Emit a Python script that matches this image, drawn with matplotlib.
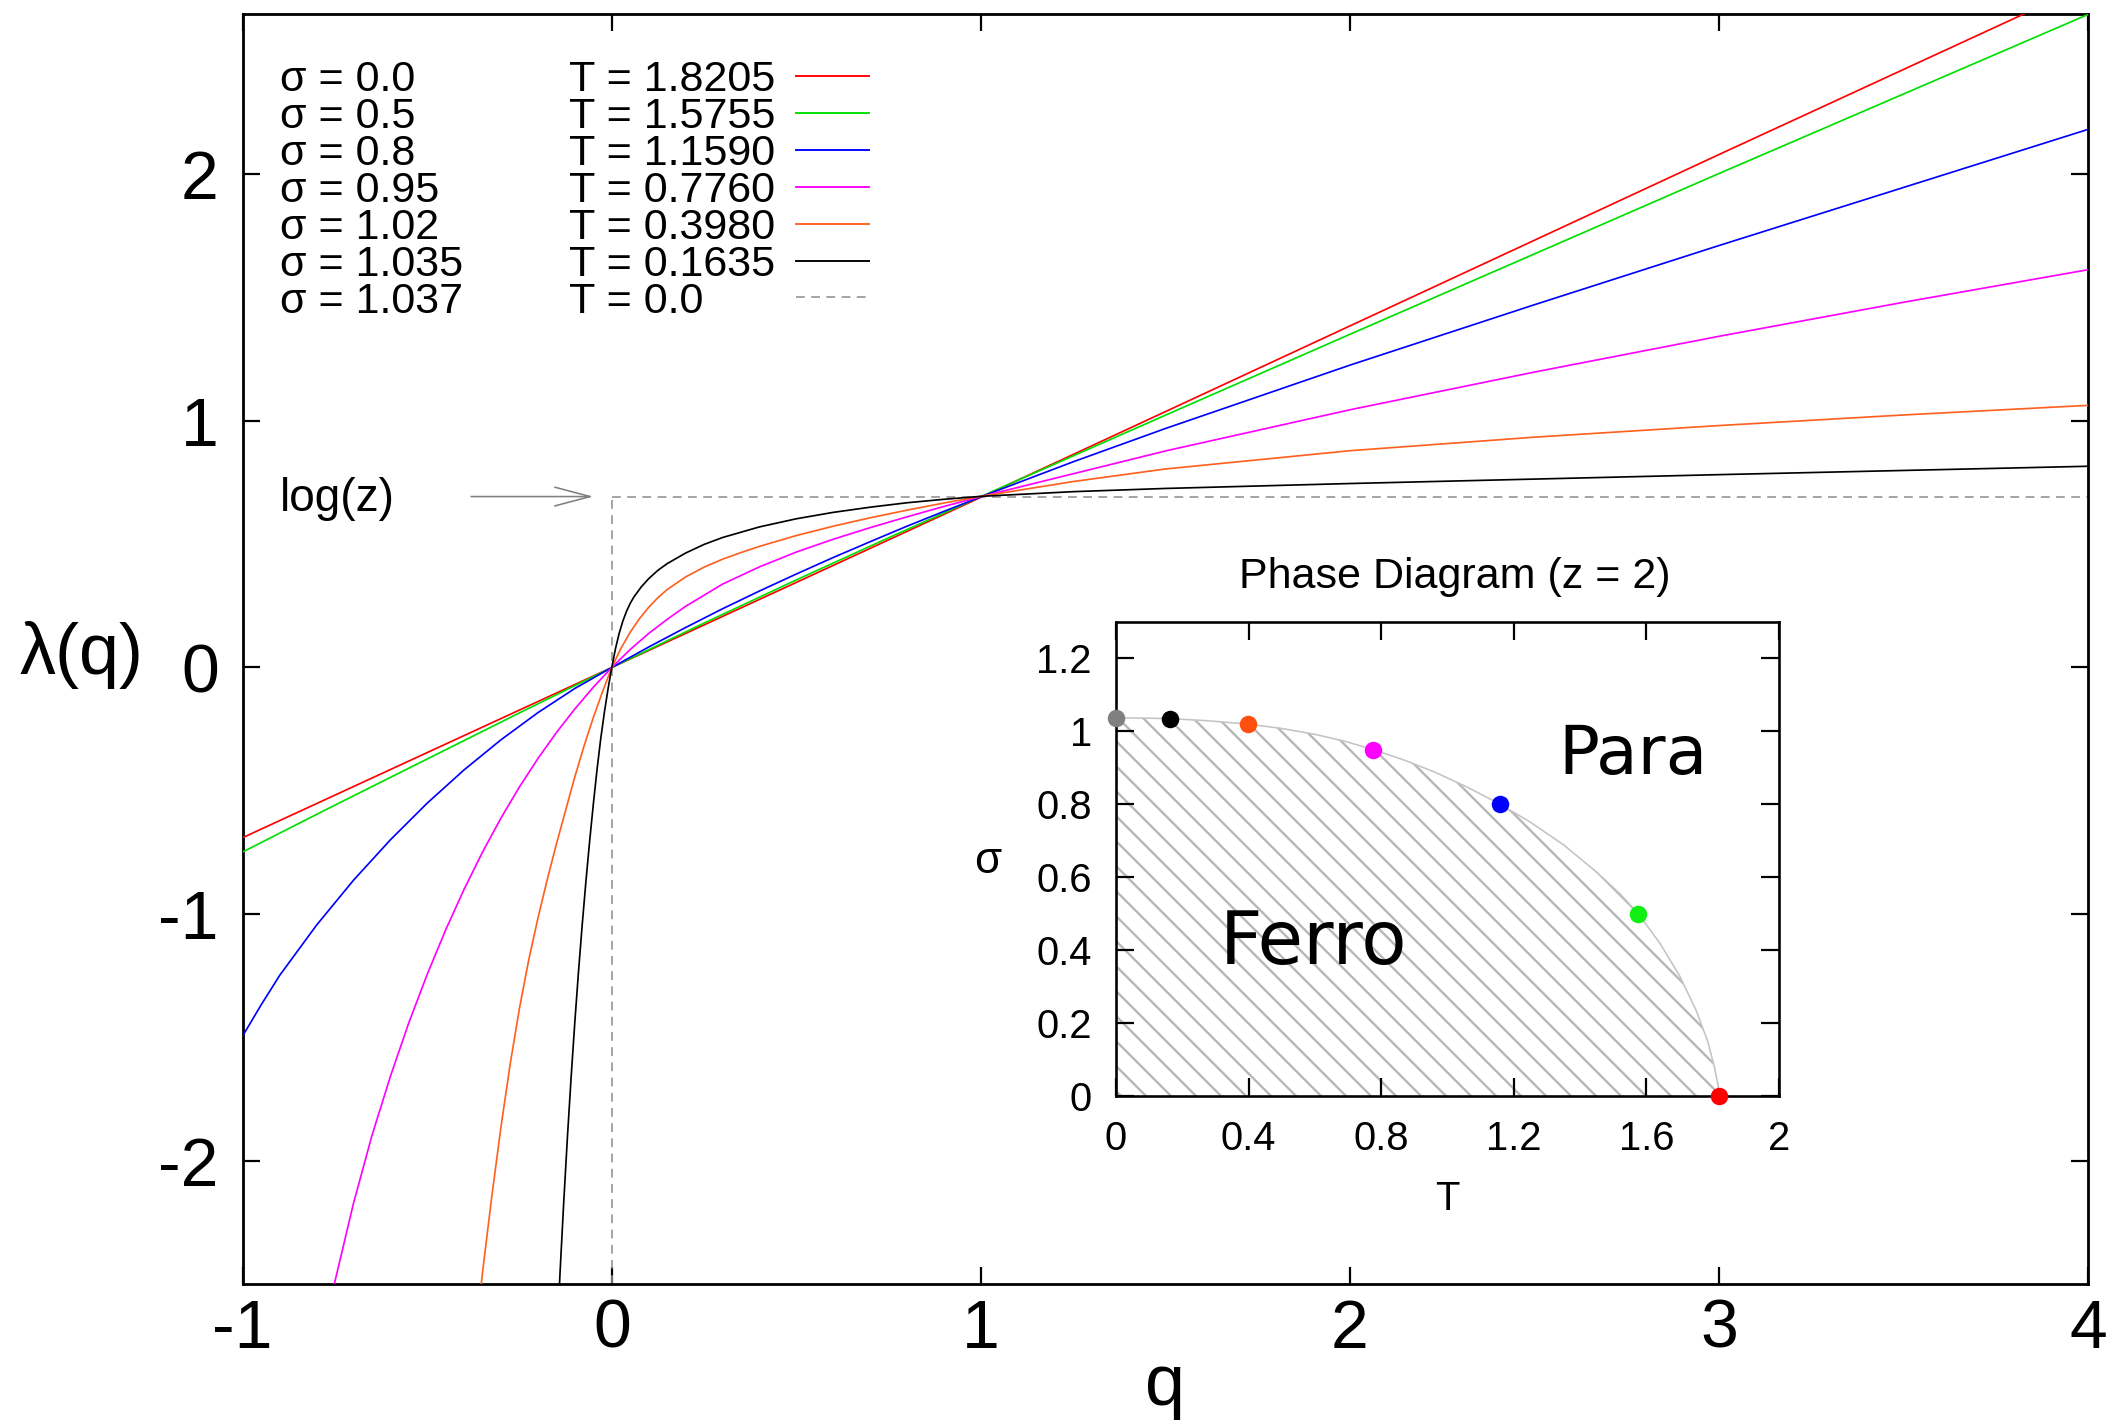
import numpy as np
import matplotlib
matplotlib.use("Agg")
import matplotlib.pyplot as plt
from matplotlib.ticker import FormatStrFormatter

DPI = 150
W, H = 2123, 1425


def pt(px):
    """Convert a size given in output pixels to points."""
    return px * 72.0 / DPI


plt.rcParams['font.family'] = ['Liberation Sans', 'DejaVu Sans']
plt.rcParams['axes.unicode_minus'] = False
plt.rcParams['hatch.linewidth'] = pt(2.4)

# ---------------------------------------------------------------- data
z = 2
log_z = np.log(z)

sigma_labels = ["0.0", "0.5", "0.8", "0.95", "1.02", "1.035", "1.037"]
T_labels = ["1.8205", "1.5755", "1.1590", "0.7760", "0.3980", "0.1635", "0.0"]
sigma_vals = [0.0, 0.5, 0.8, 0.95, 1.02, 1.035, 1.037]
T_vals = [1.8205, 1.5755, 1.1590, 0.7760, 0.3980, 0.1635, 0.0]
curve_colors = ['#ff0000', '#00e000', '#0000ff', '#ff00ff', '#ff6020', '#000000']
dot_colors = ['#ff0000', '#11ee11', '#0000ff', '#ff00ff', '#ff5010', '#000000', '#808080']

# lambda(q) for each sigma
q_s0 = [-1.0, 0.0, 1.0, 2.0, 3.0, 4.0]
lam_s0 = [-0.69, 0.0, 0.69, 1.385, 2.08, 2.77]

q_s05 = [-1.0, -0.75, -0.5, -0.25, 0.0, 0.25, 0.5, 0.75, 1.0, 1.5, 2.0, 3.0, 4.0]
lam_s05 = [-0.748, -0.558, -0.371, -0.184, 0.0, 0.18, 0.355, 0.526, 0.693,
           1.023, 1.351, 2.003, 2.648]

q_s08 = [-1.0, -0.95, -0.9, -0.8, -0.7, -0.6, -0.5, -0.4, -0.3, -0.2, -0.1, 0.0,
         0.1, 0.2, 0.3, 0.4, 0.5, 0.6, 0.7, 0.8, 0.9, 1.0, 1.25, 1.5, 2.0, 2.5,
         3.0, 4.0]
lam_s08 = [-1.494, -1.368, -1.249, -1.045, -0.863, -0.699, -0.550, -0.415, -0.293,
           -0.183, -0.085, 0.0, 0.083, 0.162, 0.238, 0.310, 0.379, 0.446, 0.510,
           0.573, 0.633, 0.692, 0.834, 0.969, 1.226, 1.471, 1.711, 2.182]

q_s095 = [-0.76, -0.75, -0.7, -0.65, -0.6, -0.55, -0.5, -0.45, -0.4, -0.35, -0.3,
          -0.25, -0.2, -0.15, -0.1, -0.05, 0.0, 0.05, 0.1, 0.15, 0.2, 0.3, 0.4,
          0.5, 0.6, 0.7, 0.8, 0.9, 1.0, 1.5, 2.0, 2.5, 3.0, 3.5, 4.0]
lam_s095 = [-2.553, -2.489, -2.174, -1.899, -1.659, -1.441, -1.244, -1.064, -0.899,
            -0.748, -0.610, -0.484, -0.369, -0.264, -0.168, -0.080, 0.0, 0.073,
            0.138, 0.195, 0.248, 0.338, 0.408, 0.468, 0.520, 0.567, 0.611, 0.653,
            0.693, 0.878, 1.045, 1.198, 1.343, 1.481, 1.613]

q_s102 = [-0.375, -0.35, -0.325, -0.3, -0.275, -0.25, -0.225, -0.2, -0.175, -0.15,
          -0.125, -0.1, -0.075, -0.05, -0.025, 0.0, 0.025, 0.05, 0.075, 0.1, 0.125,
          0.15, 0.2, 0.25, 0.3, 0.35, 0.4, 0.5, 0.6, 0.7, 0.8, 0.9, 1.0, 1.25, 1.5,
          2.0, 2.5, 3.0, 3.5, 4.0]
lam_s102 = [-2.781, -2.451, -2.144, -1.861, -1.606, -1.381, -1.186, -1.016, -0.861,
            -0.716, -0.579, -0.443, -0.318, -0.203, -0.098, 0.0, 0.078, 0.143,
            0.198, 0.244, 0.283, 0.316, 0.367, 0.407, 0.439, 0.466, 0.491, 0.535,
            0.573, 0.607, 0.638, 0.667, 0.694, 0.754, 0.805, 0.879, 0.934, 0.981,
            1.024, 1.063]

q_s1035 = [-0.15, -0.14, -0.13, -0.12, -0.11, -0.1, -0.09, -0.08, -0.07, -0.06,
           -0.05, -0.04, -0.03, -0.02, -0.01, 0.0, 0.01, 0.02, 0.03, 0.04, 0.05,
           0.06, 0.08, 0.1, 0.125, 0.15, 0.2, 0.25, 0.3, 0.4, 0.5, 0.6, 0.7, 0.8,
           0.9, 1.0, 1.25, 1.5, 2.0, 3.0, 4.0]
lam_s1035 = [-2.76, -2.45, -2.164, -1.901, -1.659, -1.436, -1.231, -1.042, -0.867,
             -0.705, -0.555, -0.415, -0.290, -0.182, -0.086, 0.0, 0.076, 0.138,
             0.188, 0.228, 0.260, 0.286, 0.327, 0.360, 0.394, 0.421, 0.464, 0.499,
             0.527, 0.570, 0.603, 0.629, 0.650, 0.668, 0.682, 0.694, 0.713, 0.726,
             0.746, 0.782, 0.816]

curves = [(q_s0, lam_s0), (q_s05, lam_s05), (q_s08, lam_s08),
          (q_s095, lam_s095), (q_s102, lam_s102), (q_s1035, lam_s1035)]

# critical line sigma_c(T) of the phase diagram
T_bnd = [0.0, 0.08, 0.1635, 0.28, 0.398, 0.5, 0.6, 0.69, 0.776, 0.87, 0.96,
         1.06, 1.159, 1.25, 1.35, 1.45, 1.52, 1.5755, 1.64, 1.70, 1.75, 1.785,
         1.805, 1.815, 1.8205]
sig_bnd = [1.037, 1.0365, 1.035, 1.029, 1.02, 1.008, 0.992, 0.973, 0.95, 0.921,
           0.889, 0.847, 0.80, 0.751, 0.689, 0.614, 0.555, 0.50, 0.42, 0.33,
           0.235, 0.15, 0.08, 0.035, 0.0]

# ---------------------------------------------------------------- figure
fig = plt.figure(figsize=(W / DPI, H / DPI), dpi=DPI)
ax = fig.add_axes([0.11432, 0.09895, 0.86920, 0.89123])
ax.set_xlim(-1, 4)
ax.set_ylim(-2.5, 2.65)

for (qq, ll), c in zip(curves, curve_colors):
    ax.plot(qq, ll, color=c, lw=pt(1.7), solid_joinstyle='round', zorder=3)

dash_kw = dict(color='#909090', lw=pt(1.6), dashes=(5.5, 4.0), zorder=2)
ax.plot([0, 0], [-2.5, log_z], **dash_kw)
ax.plot([0, 4], [log_z, log_z], **dash_kw)

ax.annotate("", xy=(-0.050, log_z), xytext=(-0.381, log_z),
            arrowprops=dict(arrowstyle="->,head_length=1.7,head_width=0.45",
                            color='#808080', lw=pt(1.6), mutation_scale=10,
                            shrinkA=0, shrinkB=0))
ax.text(-0.90, log_z - 0.01, "log(z)", fontsize=pt(46), ha='left', va='center')

# legend block
row0, drow = 0.9512, 0.02906
for i in range(7):
    y = row0 - i * drow
    ax.text(0.0204, y, f"σ = {sigma_labels[i]}", transform=ax.transAxes,
            fontsize=pt(43), ha='left', va='center_baseline')
    ax.text(0.1767, y, f"T = {T_labels[i]}", transform=ax.transAxes,
            fontsize=pt(43), ha='left', va='center_baseline')
    if i < 6:
        ax.plot([0.2999, 0.3396], [y, y], transform=ax.transAxes,
                color=curve_colors[i], lw=pt(1.9))
    else:
        ax.plot([0.2999, 0.3396], [y, y], transform=ax.transAxes,
                color='#909090', lw=pt(1.6), dashes=(5.5, 4.0))

ax.set_xticks([-1, 0, 1, 2, 3, 4])
ax.set_yticks([-2, -1, 0, 1, 2])
ax.tick_params(axis='both', which='both', direction='in', top=True, right=True,
               length=pt(17), width=pt(2.2), labelsize=pt(68))
ax.tick_params(axis='x', pad=pt(14))
ax.tick_params(axis='y', pad=pt(24))
for s in ax.spines.values():
    s.set_linewidth(pt(2.8))

ax.set_xlabel("q", fontsize=pt(72))
ax.xaxis.label.set_va('baseline')
ax.xaxis.set_label_coords(0.5, -0.0953)
ax.set_ylabel("λ(q)", fontsize=pt(72), rotation=0, ha='center', va='center')
ax.yaxis.set_label_coords(-0.0876, 0.495)

# ---------------------------------------------------------------- inset
axi = fig.add_axes([0.52567, 0.23088, 0.31229, 0.33263])
axi.set_xlim(0, 2)
axi.set_ylim(0, 1.3)
axi.fill_between(T_bnd, 0, sig_bnd, facecolor='none', edgecolor='#b8b8b8',
                 hatch='\\\\', lw=0, zorder=1)
axi.plot(T_bnd, sig_bnd, color='#c4c4c4', lw=pt(1.6), zorder=2)
for T, s, c in zip(T_vals, sigma_vals, dot_colors):
    axi.plot(T, s, 'o', color=c, ms=pt(17.5), mec='none', clip_on=False, zorder=6)

axi.text(1.56, 0.935, "Para", fontsize=pt(68), ha='center', va='center',
         family='DejaVu Sans')
axi.text(0.597, 0.417, "Ferro", fontsize=pt(74), ha='center', va='center',
         family='DejaVu Sans')

axi.set_xticks([0, 0.4, 0.8, 1.2, 1.6, 2.0])
axi.set_yticks([0, 0.2, 0.4, 0.6, 0.8, 1.0, 1.2])
axi.xaxis.set_major_formatter(FormatStrFormatter('%g'))
axi.yaxis.set_major_formatter(FormatStrFormatter('%g'))
axi.tick_params(axis='both', direction='in', top=True, right=True,
                length=pt(18), width=pt(2.2), labelsize=pt(40))
axi.tick_params(axis='x', pad=pt(24))
axi.tick_params(axis='y', pad=pt(24))
for s in axi.spines.values():
    s.set_linewidth(pt(2.6))

axi.set_title(f"Phase Diagram (z = {z})", fontsize=pt(43), pad=pt(34))
axi.title.set_x(0.511)
axi.set_xlabel("T", fontsize=pt(40))
axi.xaxis.label.set_va('center')
axi.xaxis.set_label_coords(0.5, -0.218)
axi.set_ylabel("σ", fontsize=pt(44), rotation=0, ha='center', va='center')
axi.yaxis.set_label_coords(-0.193, 0.495)

fig.savefig("out.png", dpi=DPI)
